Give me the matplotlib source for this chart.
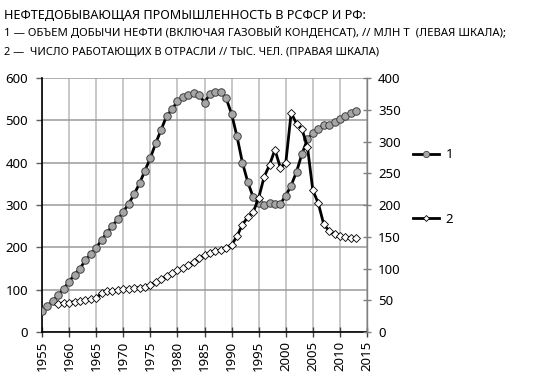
import matplotlib
matplotlib.use("Agg")
import matplotlib.pyplot as plt
from matplotlib.lines import Line2D

plt.rcParams['font.family'] = ['Noto Sans', 'DejaVu Sans']

# ---- data ----
years_oil = list(range(1955, 2014))
oil_output = [50, 61, 74, 87, 102, 119, 135, 150, 169, 184,
              199, 217, 235, 251, 266, 284, 303, 325, 351, 381,
              411, 446, 478, 510, 526, 545, 555, 560, 564, 561,
              542, 562, 568, 568, 552, 515, 462, 400, 354, 318,
              304, 300, 305, 303, 303, 322, 346, 379, 421, 455,
              470, 479, 490, 488, 496, 504, 511, 517, 522]

years_staff = list(range(1958, 2014))
staff = [44, 46, 46, 48, 49, 50, 52, 53,
         61, 64, 65, 66, 67, 68, 69, 70, 71, 74,
         78, 83, 88, 93, 97, 101, 105, 110, 116, 121,
         124, 127, 129, 133, 137, 151, 169, 181, 189, 211,
         244, 263, 287, 259, 266, 345, 328, 319, 292, 223,
         203, 170, 159, 154, 151, 150, 148, 148]

title_lines = [
    "НЕФТЕДОБЫВАЮЩАЯ ПРОМЫШЛЕННОСТЬ В РСФСР И РФ:",
    "1 — ОБЪЕМ ДОБЫЧИ НЕФТИ (ВКЛЮЧАЯ ГАЗОВЫЙ КОНДЕНСАТ), // МЛН Т  (ЛЕВАЯ ШКАЛА);",
    "2 —  ЧИСЛО РАБОТАЮЩИХ В ОТРАСЛИ // ТЫС. ЧЕЛ. (ПРАВАЯ ШКАЛА)",
]

fig = plt.figure(figsize=(5.33, 3.84), dpi=100)
ax = fig.add_axes([42 / 533, 1 - 332 / 384, 325 / 533, 254 / 384])
ax2 = ax.twinx()

# grid
ax.set_xlim(1955, 2015)
ax.set_ylim(0, 600)
ax.set_xticks(range(1955, 2016, 5))
ax.set_yticks(range(0, 601, 100))
ax.grid(axis='x', color='#c4c4c4', lw=1.3)
ax.grid(axis='y', color='#9a9a9a', lw=1.1)
ax.set_axisbelow(True)

ax.plot(years_oil, oil_output, color='black', lw=2.0, marker='o', ms=5.4,
        mfc='#a6a6a6', mec='#404040', mew=0.7, zorder=3)
ax2.plot(years_staff, staff, color='black', lw=2.0, marker='D', ms=3.9,
         mfc='white', mec='black', mew=0.6, zorder=3)
ax2.set_ylim(0, 400)
ax2.set_yticks(range(0, 401, 50))

for a in (ax, ax2):
    a.spines['top'].set_visible(False)
ax.spines['right'].set_visible(False)
ax2.spines['left'].set_visible(False)
ax2.spines['bottom'].set_visible(False)
ax.spines['left'].set_color('black')
ax.spines['bottom'].set_color('black')
ax.spines['left'].set_linewidth(1.2)
ax.spines['bottom'].set_linewidth(1.2)
ax2.spines['right'].set_color('#808080')
ax2.spines['right'].set_linewidth(1.0)

ax.tick_params(axis='x', direction='inout', length=7, width=1, color='#404040',
               labelsize=9.5, rotation=90, pad=3)
ax.tick_params(axis='y', direction='out', length=4, width=1, color='#606060',
               labelsize=9.5, pad=6)
ax2.tick_params(axis='y', direction='inout', length=6, width=1, color='#808080',
                labelsize=9.5, pad=5)

# legend
handles = [
    Line2D([], [], color='black', lw=2.0, marker='o', ms=4.5, mfc='#a6a6a6',
           mec='#404040', mew=0.6),
    Line2D([], [], color='black', lw=2.0, marker='D', ms=3.0, mfc='white',
           mec='black', mew=0.6),
]
fig.legend(handles, ['1', '2'], loc='center left',
           bbox_to_anchor=(401 / 533, 1 - 187 / 384), frameon=False,
           fontsize=9.5, handlelength=2.0, labelspacing=3.9, handletextpad=0.5)

# title
fig.text(4 / 533, 1 - 15 / 384, title_lines[0], fontsize=9.1, va='center')
fig.text(4 / 533, 1 - 33 / 384, title_lines[1], fontsize=8.15, va='center')
fig.text(4 / 533, 1 - 52 / 384, title_lines[2], fontsize=7.95, va='center')

fig.savefig("out.png", dpi=100)
